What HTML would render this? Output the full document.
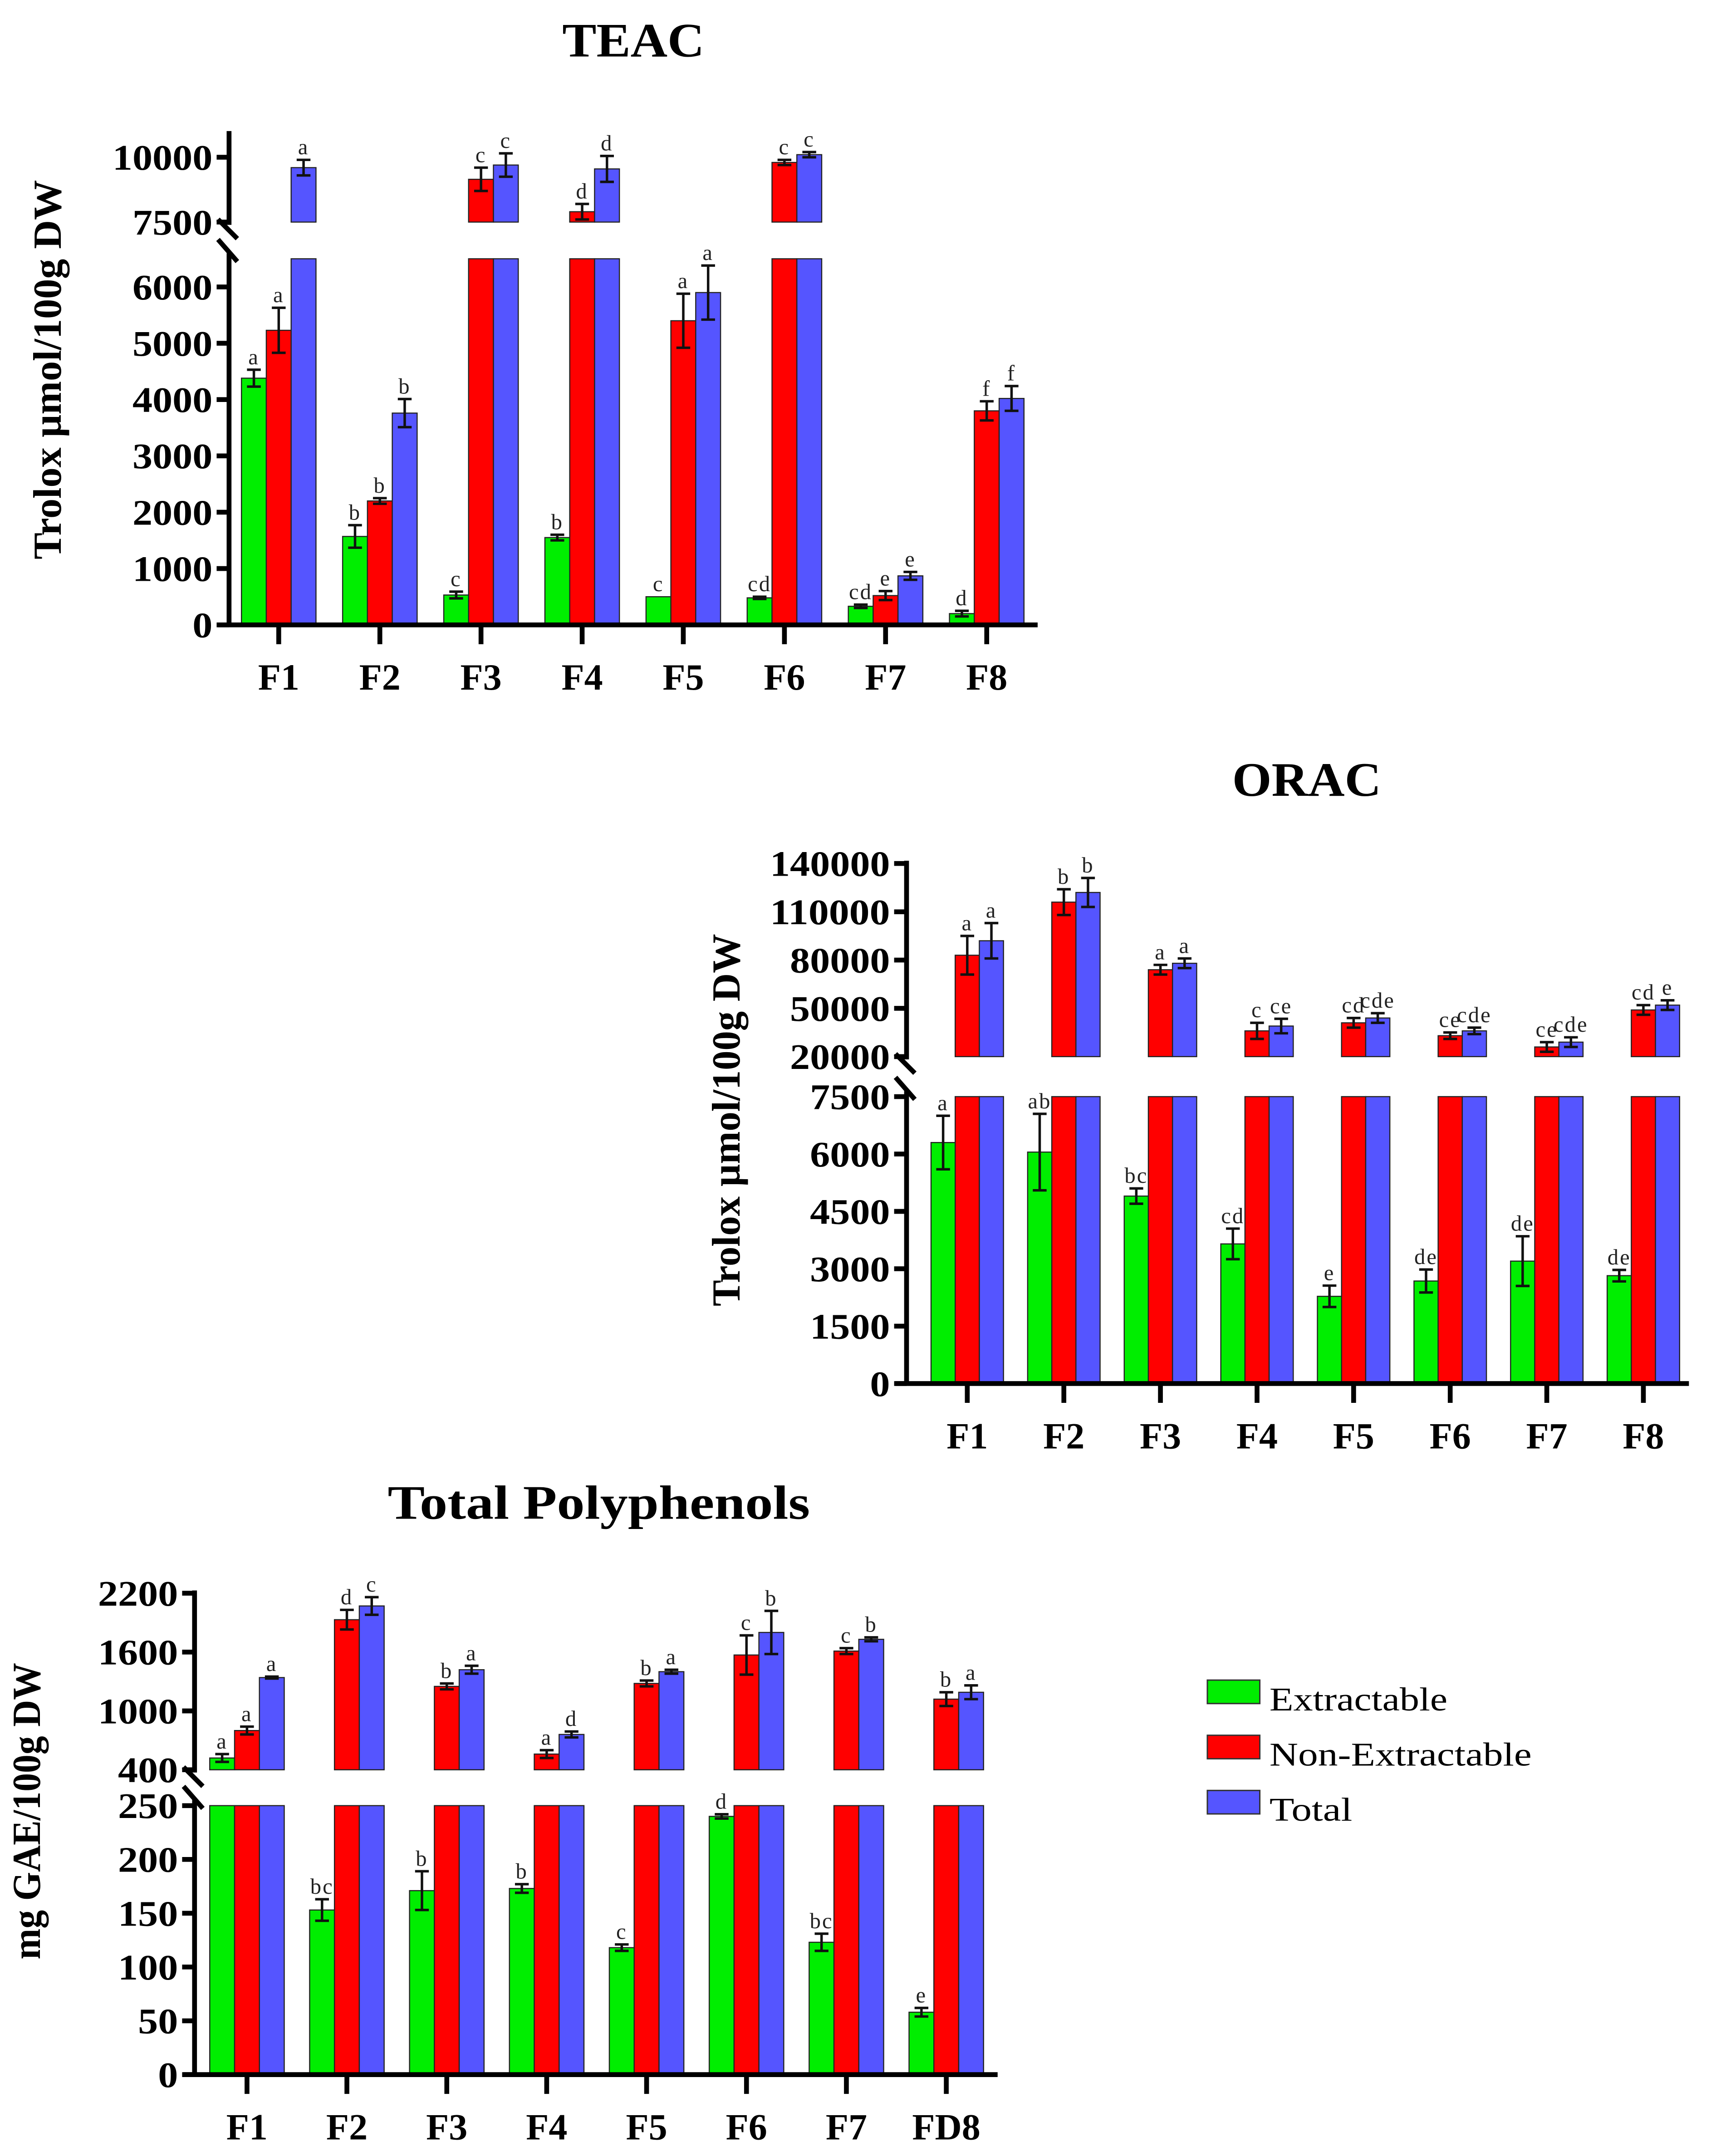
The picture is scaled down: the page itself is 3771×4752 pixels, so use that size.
<!DOCTYPE html>
<html><head><meta charset="utf-8"><style>
html,body{margin:0;padding:0;background:#fff;}
svg{display:block;}
text{font-family:"Liberation Serif",serif;}
</style></head><body>
<svg id="fig" xmlns="http://www.w3.org/2000/svg" width="3771" height="4752" viewBox="0 0 1240 1563" preserveAspectRatio="none">
<g>
<rect x="875" y="1218" width="38" height="17" fill="#00ee00" stroke="#333" stroke-width="1"/>
<text x="920" y="1240" font-size="24" textLength="129" lengthAdjust="spacingAndGlyphs">Extractable</text>
<rect x="875" y="1258" width="38" height="17" fill="#ff0000" stroke="#333" stroke-width="1"/>
<text x="920" y="1280" font-size="24" textLength="190" lengthAdjust="spacingAndGlyphs">Non-Extractable</text>
<rect x="875" y="1298" width="38" height="17" fill="#5555ff" stroke="#333" stroke-width="1"/>
<text x="920" y="1320" font-size="24" textLength="60" lengthAdjust="spacingAndGlyphs">Total</text>
</g>
</svg>
<script>
// ---- TEAC data ----
const teacCats = ["F1","F2","F3","F4","F5","F6","F7","F8"];
const teacExt = [4380,1570,530,1550,500,480,330,200];
const teacExtErr = [150,200,60,50,0,20,30,50];
const teacNon = [5230,2200,9150,7900,5400,9800,520,3800];
const teacNonErr = [400,50,450,300,480,100,80,170];
const teacTot = [9600,3760,9700,9550,5900,10100,870,4020];
const teacTotErr = [300,250,450,500,480,100,70,220];
const teacExtLbl = ["a","b","c","b","c","cd","cd","d"];
const teacNonLbl = ["a","b","c","d","a","c","e","f"];
const teacTotLbl = ["a","b","c","d","a","c","e","f"];
const teacLowTicks = [0,1000,2000,3000,4000,5000,6000];
const teacHighTicks = [7500,10000];
// ---- ORAC data ----
const oracCats = ["F1","F2","F3","F4","F5","F6","F7","F8"];
const oracExt = [6300,6050,4900,3650,2280,2680,3200,2820];
const oracExtErr = [700,1000,200,400,280,300,650,150];
const oracNon = [83000,116000,74000,36000,41000,33000,26000,49000];
const oracNonErr = [12000,8000,3000,5000,3000,2000,3000,3000];
const oracTot = [92000,122000,78000,39000,44000,36000,29000,52000];
const oracTotErr = [11000,9000,3000,4500,3000,2000,3000,3000];
const oracExtLbl = ["a","ab","bc","cd","e","de","de","de"];
const oracNonLbl = ["a","b","a","c","cd","ce","ce","cd"];
const oracTotLbl = ["a","b","a","ce","cde","cde","cde","e"];
const oracLowTicks = [0,1500,3000,4500,6000,7500];
const oracHighTicks = [20000,50000,80000,110000,140000];
// ---- Total polyphenols data ----
const tpCats = ["F1","F2","F3","F4","F5","F6","F7","FD8"];
const tpExt = [520,153,171,173,118,240,123,58];
const tpExtErr = [40,10,18,4,3,2,8,4];
const tpNon = [800,1930,1250,560,1280,1570,1610,1120];
const tpNonErr = [40,100,30,40,30,200,30,70];
const tpTot = [1340,2070,1420,760,1400,1800,1730,1190];
const tpTotErr = [10,90,40,30,20,220,20,70];
const tpExtLbl = ["a","bc","b","b","c","d","bc","e"];
const tpNonLbl = ["a","d","b","a","b","c","c","b"];
const tpTotLbl = ["a","c","a","d","a","b","b","a"];
const tpLowTicks = [0,50,100,150,200,250];
const tpHighTicks = [400,1000,1600,2200];

const NS="http://www.w3.org/2000/svg";
const svg=document.getElementById('fig');
function mk(tag,attrs,parent){const e=document.createElementNS(NS,tag);for(const k in attrs)e.setAttribute(k,attrs[k]);(parent||svg).appendChild(e);return e;}
const COLORS=["#00ee00","#ff0000","#5555ff"];
const SER=["extractable","non-extractable","total"];

function chart(c){
  const g=mk('g',{});
  
  
  const yLow=v=>c.x0y - (v-c.lowMin)/(c.lowMax-c.lowMin)*(c.x0y-c.lowTop);
  const yHigh=v=>c.highBot - (v-c.highMin)/(c.highMax-c.highMin)*(c.highBot-c.highTopPx);
  const yv=v=> v<=c.lowMax? yLow(v) : yHigh(v);
  const xc=i=>c.cx0+i*c.step;
  const series=[[c.ext,c.extErr,c.extLbl],[c.non,c.nonErr,c.nonLbl],[c.tot,c.totErr,c.totLbl]];
  series.forEach((s,si)=>{
    const vals=s[0],errs=s[1],lbls=s[2];
    vals.forEach((v,i)=>{
      const x=xc(i)+(si-1.5)*c.bw;
      if(v<=c.lowMax){
        const r=mk('rect',{x:x,y:yLow(v),width:c.bw,height:c.x0y-yLow(v),fill:COLORS[si],stroke:"#222","stroke-width":0.8},g);
        
        
      } else {
        const r=mk('rect',{x:x,y:c.lowTop,width:c.bw,height:c.x0y-c.lowTop,fill:COLORS[si],stroke:"#222","stroke-width":0.8},g);
        
        
        const r2=mk('rect',{x:x,y:yHigh(v),width:c.bw,height:c.highBot-yHigh(v),fill:COLORS[si],stroke:"#222","stroke-width":0.8},g);
        
        
      }
      const e=errs[i]; const cx=x+c.bw/2;
      const yt=yv(v+e), yb=yv(Math.max(v-e,0));
      if(e>0){
        const eg=mk('g',{stroke:"#111","stroke-width":1.8},g);
        
        
        mk('line',{x1:cx,y1:yt,x2:cx,y2:yb},eg);
        mk('line',{x1:cx-5,y1:yt,x2:cx+5,y2:yt},eg);
        mk('line',{x1:cx-5,y1:yb,x2:cx+5,y2:yb},eg);
      }
      const t=mk('text',{x:cx,y:Math.min(yt,yv(v))-4,"font-size":16,"text-anchor":"middle",fill:"#222","letter-spacing":1},g);
      t.textContent=lbls[i];
      
      
    });
  });
  const ax=mk('g',{stroke:"#000","stroke-width":3.5,fill:"none"},g);
  
  
  mk('line',{x1:c.ax,y1:c.x0y,x2:c.ax,y2:c.lowTop-4},ax);
  mk('line',{x1:c.ax,y1:c.highBot+2,x2:c.ax,y2:c.axTop},ax);
  mk('line',{x1:c.ax-8,y1:c.x0y,x2:c.xEnd,y2:c.x0y},ax);
  mk('line',{x1:c.ax-8,y1:c.highBot-2,x2:c.ax+6,y2:c.highBot+12},ax);
  mk('line',{x1:c.ax-8,y1:c.lowTop-14,x2:c.ax+6,y2:c.lowTop+2},ax);
  const tk=(v,y)=>{
    mk('line',{x1:c.ax-9,y1:y,x2:c.ax,y2:y},ax);
    const s=String(v);
    const t=mk('text',{x:c.ax-12,y:y+9,"font-size":26,"font-weight":"bold","text-anchor":"end",fill:"#000",stroke:"none",textLength:s.length*14.5,lengthAdjust:"spacingAndGlyphs"},g);
    t.textContent=s;
    
    
  };
  c.lowTicks.forEach(v=>tk(v,yLow(v)));
  c.highTicks.forEach(v=>tk(v,yHigh(v)));
  c.cats.forEach((n,i)=>{
    mk('line',{x1:xc(i),y1:c.x0y,x2:xc(i),y2:c.x0y+14},ax);
    const t=mk('text',{x:xc(i),y:c.x0y+47,"font-size":27,"font-weight":"bold","text-anchor":"middle",fill:"#000"},g);
    t.textContent=n;
    
    
  });
  const ti=mk('text',{x:c.titleX,y:c.titleY,"font-size":35,"font-weight":"bold","text-anchor":"middle",fill:"#000",textLength:c.titleLen,lengthAdjust:"spacingAndGlyphs"},g);
  ti.textContent=c.title;
  
  
  const yt=mk('text',{x:0,y:0,"font-size":29,"font-weight":"bold","text-anchor":"middle",fill:"#000",transform:`translate(${c.ytX},${c.ytY}) rotate(-90)`,textLength:c.ytLen,lengthAdjust:"spacingAndGlyphs"},g);
  yt.textContent=c.ytitle;
  
  
}

chart({id:'teac',title:'TEAC',titleX:459,titleY:41,titleLen:103,ytitle:'Trolox µmol/100g DW',ytX:44,ytY:268,ytLen:275,
  cats:teacCats,ext:teacExt,extErr:teacExtErr,extLbl:teacExtLbl,non:teacNon,nonErr:teacNonErr,nonLbl:teacNonLbl,tot:teacTot,totErr:teacTotErr,totLbl:teacTotLbl,
  lowTicks:teacLowTicks,highTicks:teacHighTicks,
  ax:166,x0y:453,xEnd:752,lowMin:0,lowMax:6500,lowTop:187.6,highMin:7500,highMax:10000,highBot:161,highTopPx:114,axTop:95,
  cx0:202,step:73.3,bw:18});
chart({id:'orac',title:'ORAC',titleX:947,titleY:577,titleLen:108,ytitle:'Trolox µmol/100g DW',ytX:536,ytY:812,ytLen:270,
  cats:oracCats,ext:oracExt,extErr:oracExtErr,extLbl:oracExtLbl,non:oracNon,nonErr:oracNonErr,nonLbl:oracNonLbl,tot:oracTot,totErr:oracTotErr,totLbl:oracTotLbl,
  lowTicks:oracLowTicks,highTicks:oracHighTicks,
  ax:657,x0y:1003,xEnd:1224,lowMin:0,lowMax:7500,lowTop:795,highMin:20000,highMax:140000,highBot:766,highTopPx:626,axTop:624,
  cx0:701,step:70,bw:17.5});
chart({id:'polyphenols',title:'Total Polyphenols',titleX:434,titleY:1101,titleLen:306,ytitle:'mg GAE/100g DW',ytX:29,ytY:1313,ytLen:215,
  cats:tpCats,ext:tpExt,extErr:tpExtErr,extLbl:tpExtLbl,non:tpNon,nonErr:tpNonErr,nonLbl:tpNonLbl,tot:tpTot,totErr:tpTotErr,totLbl:tpTotLbl,
  lowTicks:tpLowTicks,highTicks:tpHighTicks,
  ax:141,x0y:1504,xEnd:723,lowMin:0,lowMax:250,lowTop:1309,highMin:400,highMax:2200,highBot:1283,highTopPx:1155,axTop:1153,
  cx0:179,step:72.4,bw:18});
</script>
</body></html>
